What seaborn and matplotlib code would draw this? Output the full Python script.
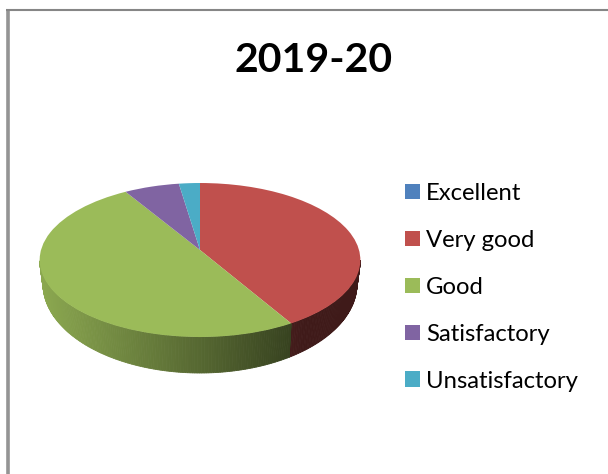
import numpy as np
import matplotlib
matplotlib.use("Agg")
import matplotlib.pyplot as plt
from matplotlib.path import Path
from matplotlib.patches import Patch
from matplotlib.transforms import Transform
import seaborn as sns

title = "2019-20"
categories = ["Excellent", "Very good", "Good", "Satisfactory", "Unsatisfactory"]
shares = [0.0, 41.5, 49.8, 6.3, 2.4]
colours = ["#4F81BD", "#C0504D", "#9BBB59", "#8064A2", "#4BACC6"]

sns.set_theme(style="white")
plt.rcParams["font.family"] = ["Lato", "DejaVu Sans"]
palette = sns.color_palette(colours)

# Camera used for the tilted disc (pixel space of the canvas)
CX, CY, RX, RY, K = 200.0, 250.0, 159.0, 75.7, 0.13
BOT_CY, BOT_RY, BOT_RX = 284.0, 89.0, 157.0


class Tilt(Transform):
    input_dims = output_dims = 2
    is_separable = False
    has_inverse = False

    def transform_non_affine(self, xy):
        xy = np.asarray(xy, float)
        w = 1 + K * xy[:, 1]
        return np.column_stack((CX + RX * xy[:, 0] / w, CY - RY * xy[:, 1] / w))

    def transform_path_non_affine(self, path):
        return Path(self.transform_non_affine(path.vertices), path.codes)


fig = plt.figure(figsize=(6.08, 4.74), dpi=100)
ax = fig.add_axes([0, 0, 1, 1])
wedges, _ = ax.pie(shares, colors=palette, startangle=90, counterclock=False,
                   wedgeprops={"linewidth": 0, "zorder": 3})
ax.set_aspect("auto")
ax.set_xlim(0, 608)
ax.set_ylim(474, 0)
ax.axis("off")
tilt = Tilt()
for w in wedges:
    w.set_transform(tilt + ax.transData)


def shade(px):
    """Side-wall lighting: bright on the left, dark on the right."""
    return float(np.clip(0.90 + (0.36 - 0.90) * (px - 41) / (290 - 41), 0.33, 0.90))


for w, col in zip(wedges, palette):
    if w.theta2 - w.theta1 <= 0:
        continue
    th = np.radians(np.arange(w.theta1, w.theta2 + 0.75, 0.75))
    th = np.clip(th, np.radians(w.theta1), np.radians(w.theta2))
    pts = tilt.transform_non_affine(np.column_stack((np.cos(th), np.sin(th))))
    vis = np.sin(th) <= -K
    for i in range(len(th) - 1):
        if not (vis[i] and vis[i + 1]):
            continue
        p0, p1 = pts[i], pts[i + 1]
        t0 = np.clip((p0[0] - CX) / 160.5, -1, 1)
        t1 = np.clip((p1[0] - CX) / 160.5, -1, 1)
        b0 = (CX + BOT_RX * t0, BOT_CY + BOT_RY * np.sqrt(1 - t0 ** 2))
        b1 = (CX + BOT_RX * t1, BOT_CY + BOT_RY * np.sqrt(1 - t1 ** 2))
        m = shade((p0[0] + p1[0]) / 2)
        c = tuple(np.array(col) * m)
        ax.fill([p0[0], p1[0], b1[0], b0[0]], [p0[1], p1[1], b1[1], b0[1]],
                facecolor=c, edgecolor=c, linewidth=0.6, zorder=2)

# Chart frame: only its top and left edges fall on the canvas
ax.plot([8, 8], [9, 474], color="#949494", linewidth=2.6, solid_capstyle="butt", zorder=1)
ax.plot([6, 608], [10, 10], color="#868686", linewidth=1.5, solid_capstyle="butt", zorder=1)

ax.text(314, 60, title, ha="center", va="center", fontsize=29.5, fontweight="bold",
        color="black")

fs = 17.2
handles = [Patch(facecolor=c, edgecolor="none") for c in palette]
leg = ax.legend(handles, categories, loc="upper left",
                bbox_to_anchor=(405 / 608, 1 - 183 / 474),
                frameon=False, fontsize=fs, handlelength=0.63, handleheight=0.63,
                handletextpad=0.26, labelspacing=1.085, labelcolor="black",
                borderpad=0, borderaxespad=0)

fig.savefig("out.png", dpi=100)
